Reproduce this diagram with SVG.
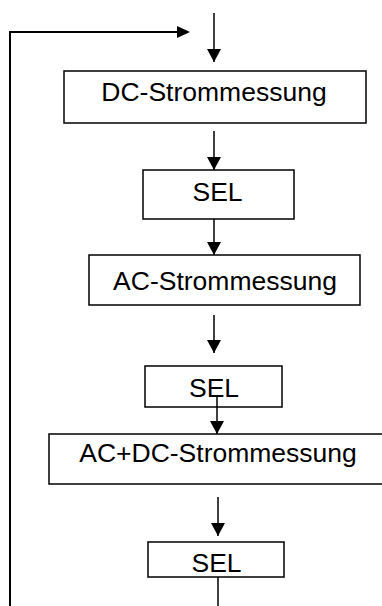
<svg xmlns="http://www.w3.org/2000/svg" width="382" height="606" viewBox="0 0 382 606">
<defs>
<style>
.box{fill:#fff;stroke:#000;stroke-width:1.5}
.lbl{font-family:"Liberation Sans",Arial,sans-serif;font-size:26.5px;fill:#000;text-anchor:middle}
.con{fill:none;stroke:#000;stroke-width:1.5}
.loop{fill:none;stroke:#000;stroke-width:2}
</style>
<marker id="ah" markerUnits="userSpaceOnUse" markerWidth="14" markerHeight="14" refX="13" refY="7" orient="auto">
<path d="M0,0 L13,7 L0,14 z" fill="#000"/>
</marker>
</defs>
<g id="nodes">
<g id="dc"><rect class="box" x="64" y="71" width="302" height="52"/><text class="lbl" x="214" y="101">DC-Strommessung</text></g>
<g id="sel1"><rect class="box" x="143" y="170" width="151" height="49"/><text class="lbl" x="217.5" y="201">SEL</text></g>
<g id="ac"><rect class="box" x="89" y="255" width="271" height="50"/><text class="lbl" x="225" y="290">AC-Strommessung</text></g>
<g id="sel2"><rect class="box" x="145" y="366" width="137" height="41"/><text class="lbl" x="214" y="397">SEL</text></g>
<g id="acdc"><rect class="box" x="49" y="434" width="340" height="50"/><text class="lbl" x="218" y="462">AC+DC-Strommessung</text></g>
<g id="sel3"><rect class="box" x="148" y="542" width="136" height="35"/><text class="lbl" x="216.5" y="572">SEL</text></g>
</g>
<g id="connectors">
<line class="con" x1="214" y1="13" x2="214" y2="62" marker-end="url(#ah)"/>
<line class="con" x1="214" y1="131" x2="214" y2="170" marker-end="url(#ah)"/>
<line class="con" x1="214" y1="219" x2="214" y2="255" marker-end="url(#ah)"/>
<line class="con" x1="214" y1="315" x2="214" y2="353" marker-end="url(#ah)"/>
<line class="con" x1="217" y1="395" x2="217" y2="434" marker-end="url(#ah)"/>
<line class="con" x1="218" y1="497" x2="218" y2="536" marker-end="url(#ah)"/>
<line class="con" x1="218" y1="577" x2="218" y2="606"/>
<polyline class="loop" points="10,606 10,32 177,32"/>
<path d="M177,26 L190,32 L177,38 z" fill="#000"/>
</g>
</svg>
